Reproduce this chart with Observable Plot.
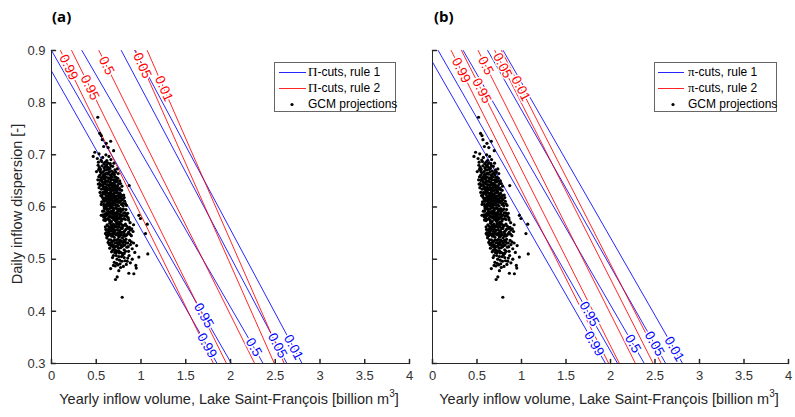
<!DOCTYPE html>
<html>
<head>
<meta charset="utf-8">
<script src="https://cdn.jsdelivr.net/npm/d3@7"></script>
<script src="https://cdn.jsdelivr.net/npm/@observablehq/plot@0.6"></script>
<style>
  body { margin: 0; background: #fff; }
  #wrap { position: relative; width: 795px; height: 417px; overflow: hidden; background: #fff;
          font-family: "Liberation Sans", Arial, sans-serif; color: #262626; }
  .panel { position: absolute; top: 0; }
  .letter { position: absolute; top: 6px; font-family: "Open Sans", sans-serif; font-weight: 700; font-size: 15px; line-height: 20px; color: #000; }
  .xtitle { position: absolute; top: 390px; font-size: 14.5px; line-height: 18px; white-space: nowrap; transform: translateX(-50%); color: #262626; }
  .xtitle sup { font-size: 10px; line-height: 0; vertical-align: 7px; }
  .ytitle { position: absolute; font-size: 14.5px; line-height: 18px; white-space: nowrap; transform: translate(-50%, -50%) rotate(-90deg); color: #262626; }
  .legend { position: absolute; top: 62px; height: 48px; border: 1px solid #666; background: #fff; font-size: 12px; color: #000; }
  .legend .row { position: absolute; left: 0; right: 0; height: 16px; }
  .legend svg { position: absolute; left: 0; top: 0; }
  .legend .lab { position: absolute; top: 0; line-height: 16px; white-space: nowrap; }
  .legend .sym { font-family: "Liberation Serif", "DejaVu Serif", serif; font-size: 13px; }
</style>
</head>
<body>
<div id="wrap"></div>
<script>
// ---------- data ----------
const quantileLabels = ["0.99", "0.95", "0.5", "0.05", "0.01"];
const xTicks = [0, 0.5, 1, 1.5, 2, 2.5, 3, 3.5, 4];
const xTickLabels = ["0", "0.5", "1", "1.5", "2", "2.5", "3", "3.5", "4"];
const yTicks = [0.3, 0.4, 0.5, 0.6, 0.7, 0.8, 0.9];
const yTickLabels = ["0.3", "0.4", "0.5", "0.6", "0.7", "0.8", "0.9"];
const yTop = 0.9, yBottom = 0.3;

// Panel (a): x where each cut crosses y = 0.9 (top) and y = 0.3 (bottom)
const aRule1Top    = [-0.13, 0.00, 0.34, 0.78, 0.93];
const aRule1Bottom = [1.85, 2.01, 2.365, 2.63, 2.80];
const aRule2Top    = [0.10, 0.225, 0.53, 0.94, 1.07];
const aRule2Bottom = [1.81, 1.955, 2.27, 2.49, 2.60];
const aRule1LabelY = [0.3345, 0.392, 0.331, 0.3345, 0.331];
const aRule2LabelY = [0.868, 0.829, 0.871, 0.871, 0.827];

// Panel (b)
const bRule1Top    = [-0.075, 0.064, 0.345, 0.62, 0.794];
const bRule1Bottom = [1.944, 2.08, 2.38, 2.62, 2.81];
const bRule2Top    = [0.21, 0.326, 0.513, 0.70, 0.775];
const bRule2Bottom = [1.98, 2.10, 2.28, 2.48, 2.57];
const bRule1LabelY = [0.338, 0.395, 0.338, 0.338, 0.328];
const bRule2LabelY = [0.862, 0.823, 0.871, 0.871, 0.827];

// GCM projections: [yearly inflow volume, daily inflow dispersion]
const gcmProjections = [
[0.517,0.772],[0.540,0.741],[0.556,0.737],[0.567,0.729],[0.612,0.722],[0.661,0.726],[0.694,0.708],[0.633,0.714],[0.583,0.716],
[0.484,0.705],[0.466,0.697],[0.512,0.693],[0.553,0.690],[0.586,0.683],[0.608,0.700],[0.697,0.684],[0.531,0.702],[0.572,0.695],[0.642,0.697],[0.524,0.686],[0.618,0.689],[0.664,0.691],
[0.734,0.673],[0.521,0.680],[0.548,0.672],[0.579,0.668],[0.603,0.678],[0.623,0.665],[0.652,0.674],[0.671,0.669],[0.703,0.662],[0.541,0.661],[0.566,0.679],[0.633,0.684],[0.594,0.660],[0.658,0.661],[0.718,0.667],[0.503,0.668],[0.612,0.671],[0.684,0.678],[0.557,0.665],[0.639,0.672],[0.691,0.666],[0.588,0.675],[0.527,0.672],[0.573,0.658],[0.626,0.663],[0.745,0.664],[0.662,0.679],[0.604,0.664],
[0.536,0.676],[0.561,0.687],[0.597,0.671],[0.617,0.681],[0.647,0.667],[0.676,0.663],[0.708,0.671],[0.582,0.662],[0.629,0.676],[0.657,0.683],[0.544,0.668],[0.602,0.686],
[0.518,0.652],[0.537,0.645],[0.552,0.656],[0.568,0.648],[0.581,0.639],[0.593,0.653],[0.602,0.644],[0.614,0.657],[0.621,0.636],[0.632,0.649],[0.644,0.641],[0.653,0.655],[0.661,0.632],[0.673,0.646],[0.682,0.638],[0.694,0.652],[0.703,0.643],[0.712,0.634],[0.724,0.648],[0.731,0.637],[0.752,0.645],[0.768,0.633],[0.868,0.641],[0.558,0.634],[0.598,0.631],[0.641,0.654],[0.679,0.658],[0.741,0.655],[0.532,0.637],[0.617,0.650],[0.662,0.643],[0.698,0.632],[0.787,0.640],[0.578,0.659],[0.628,0.633],[0.547,0.641],[0.588,0.647],[0.609,0.638],[0.637,0.642],[0.668,0.652],[0.689,0.645],[0.715,0.652],[0.739,0.641],[0.758,0.636],[0.571,0.643],[0.651,0.637],[0.709,0.657],[0.762,0.650],[0.523,0.644],[0.596,0.656],[0.646,0.633],[0.674,0.635],[0.727,0.631],
[0.528,0.658],[0.543,0.651],[0.561,0.652],[0.576,0.636],[0.586,0.655],[0.607,0.649],[0.623,0.643],[0.636,0.656],[0.657,0.646],[0.666,0.657],[0.678,0.641],[0.697,0.638],[0.706,0.649],[0.719,0.640],[0.734,0.650],[0.748,0.634],[0.771,0.645],[0.783,0.632],[0.591,0.634],[0.614,0.632],[0.653,0.648],[0.686,0.632],[0.722,0.657],[0.563,0.642],
[0.551,0.622],[0.562,0.610],[0.573,0.628],[0.584,0.605],[0.592,0.617],[0.603,0.624],[0.611,0.603],[0.622,0.614],[0.633,0.626],[0.641,0.607],[0.652,0.619],[0.663,0.629],[0.671,0.601],[0.682,0.612],[0.693,0.623],[0.701,0.608],[0.712,0.618],[0.721,0.627],[0.733,0.604],[0.741,0.615],[0.753,0.624],[0.762,0.609],[0.771,0.620],[0.782,0.605],[0.793,0.614],[0.801,0.602],[0.818,0.611],[0.838,0.603],[0.614,0.620],[0.644,0.622],[0.674,0.616],[0.702,0.627],[0.732,0.612],[0.664,0.606],[0.688,0.604],[0.717,0.609],[0.748,0.602],[0.628,0.610],[0.578,0.616],[0.542,0.628],[0.597,0.611],[0.637,0.617],[0.657,0.612],[0.678,0.625],[0.708,0.613],[0.727,0.621],[0.758,0.617],[0.776,0.612],[0.566,0.619],[0.618,0.628],[0.648,0.603],[0.696,0.617],[0.737,0.628],[0.788,0.622],[0.812,0.618],
[0.557,0.605],[0.569,0.624],[0.582,0.611],[0.593,0.627],[0.606,0.616],[0.617,0.606],[0.626,0.621],[0.639,0.613],[0.651,0.626],[0.661,0.615],[0.669,0.622],[0.684,0.618],[0.692,0.609],[0.706,0.621],[0.716,0.603],[0.726,0.615],[0.744,0.609],[0.756,0.611],[0.766,0.626],[0.779,0.617],[0.796,0.607],[0.806,0.623],[0.826,0.606],[0.587,0.601],[0.634,0.603],[0.679,0.606],[0.739,0.621],[0.657,0.607],
[0.571,0.592],[0.582,0.581],[0.591,0.597],[0.602,0.574],[0.613,0.588],[0.621,0.596],[0.632,0.578],[0.641,0.590],[0.652,0.583],[0.663,0.598],[0.671,0.572],[0.681,0.586],[0.692,0.594],[0.702,0.579],[0.711,0.589],[0.722,0.598],[0.731,0.575],[0.742,0.587],[0.751,0.593],[0.762,0.580],[0.772,0.591],[0.781,0.573],[0.792,0.585],[0.803,0.596],[0.811,0.578],[0.822,0.589],[0.842,0.582],[0.861,0.575],[0.878,0.570],[0.556,0.584],[0.663,0.588],[0.702,0.597],[0.733,0.582],[0.758,0.571],[0.648,0.575],[0.683,0.599],[0.713,0.574],[0.744,0.596],[0.622,0.585],[0.976,0.584],[0.994,0.578],[0.598,0.586],[0.627,0.593],[0.657,0.591],[0.688,0.581],[0.717,0.583],[0.737,0.591],[0.767,0.586],[0.787,0.594],[0.816,0.583],[0.832,0.595],[0.852,0.588],[0.607,0.597],[0.676,0.579],[0.727,0.588],[0.776,0.578],[0.584,0.575],[0.643,0.581],[0.698,0.587],[0.748,0.577],
[0.576,0.585],[0.588,0.592],[0.597,0.579],[0.608,0.583],[0.617,0.576],[0.636,0.587],[0.647,0.597],[0.668,0.581],[0.678,0.592],[0.694,0.576],[0.707,0.585],[0.719,0.579],[0.732,0.596],[0.741,0.578],[0.756,0.586],[0.769,0.597],[0.783,0.583],[0.797,0.577],[0.807,0.589],[0.826,0.576],[0.837,0.586],[0.858,0.579],[0.653,0.572],[0.722,0.572],[0.613,0.599],[0.687,0.591],
[0.603,0.549],[0.602,0.562],[0.612,0.551],[0.622,0.566],[0.631,0.545],[0.642,0.558],[0.652,0.569],[0.661,0.548],[0.672,0.560],[0.681,0.553],[0.692,0.567],[0.701,0.542],[0.712,0.556],[0.721,0.564],[0.732,0.549],[0.741,0.561],[0.752,0.543],[0.762,0.555],[0.771,0.568],[0.782,0.547],[0.791,0.559],[0.802,0.552],[0.811,0.565],[0.822,0.544],[0.831,0.557],[0.852,0.549],[0.871,0.561],[0.892,0.545],[0.911,0.553],[0.673,0.544],[0.723,0.547],[0.753,0.566],[0.793,0.541],[0.688,0.557],[0.643,0.547],[1.070,0.567],[1.050,0.549],[0.627,0.556],[0.657,0.561],[0.686,0.547],[0.707,0.563],[0.737,0.556],[0.767,0.548],[0.787,0.566],[0.817,0.554],[0.842,0.563],[0.862,0.552],[0.618,0.541],[0.663,0.556],[0.697,0.551],[0.727,0.568],[0.747,0.551],[0.777,0.559],[0.807,0.545],[0.882,0.556],[0.917,0.566],
[0.607,0.557],[0.616,0.546],[0.636,0.563],[0.648,0.553],[0.667,0.566],[0.678,0.548],[0.696,0.561],[0.716,0.548],[0.731,0.562],[0.743,0.546],[0.758,0.562],[0.773,0.552],[0.797,0.563],[0.812,0.549],[0.826,0.567],[0.837,0.546],[0.857,0.559],[0.876,0.548],[0.897,0.558],[0.632,0.551],[0.706,0.553],[0.762,0.544],[0.682,0.564],[0.742,0.569],
[0.632,0.532],[0.651,0.521],[0.662,0.537],[0.671,0.514],[0.682,0.528],[0.691,0.535],[0.702,0.519],[0.712,0.531],[0.721,0.512],[0.732,0.525],[0.741,0.538],[0.752,0.516],[0.761,0.529],[0.772,0.522],[0.781,0.534],[0.792,0.511],[0.801,0.526],[0.812,0.518],[0.822,0.533],[0.842,0.523],[0.861,0.515],[0.882,0.528],[0.902,0.520],[0.931,0.513],[0.713,0.524],[0.742,0.527],[0.772,0.513],[0.683,0.517],[0.832,0.538],[0.951,0.526],[1.076,0.510],[0.646,0.528],[0.697,0.526],[0.727,0.536],[0.757,0.533],[0.787,0.524],[0.808,0.536],[0.852,0.531],[0.872,0.536],[0.917,0.531],[0.737,0.515],[0.827,0.515],[0.667,0.526],
[0.641,0.537],[0.657,0.531],[0.676,0.533],[0.688,0.523],[0.707,0.537],[0.717,0.517],[0.736,0.531],[0.748,0.521],[0.766,0.537],[0.776,0.527],[0.797,0.531],[0.817,0.527],[0.837,0.531],[0.857,0.524],[0.892,0.533],[0.706,0.513],[0.757,0.512],[0.812,0.511],
[0.682,0.503],[0.701,0.494],[0.722,0.507],[0.742,0.489],[0.761,0.498],[0.766,0.491],[0.782,0.505],[0.803,0.486],[0.821,0.497],[0.852,0.502],[0.881,0.493],[0.942,0.488],[0.976,0.504],[0.661,0.482],[0.732,0.500],[0.772,0.484],[0.902,0.500],[0.712,0.487],[0.797,0.508],[0.836,0.490],[0.867,0.507],
[0.692,0.507],[0.727,0.492],[0.752,0.505],[0.787,0.496],[0.812,0.503],[0.692,0.488],[0.846,0.496],
[0.734,0.466],[0.715,0.461],[0.790,0.427],[0.864,0.473],[0.920,0.472],[0.752,0.478],[0.947,0.483]
];

// ---------- styling ----------
const rule1Color = "#0000ff";
const rule2Color = "#ff0000";
const axisColor = "#262626";
const H = 417, MT = 50, MB = 54;
const xDomain = [0, 4];

const tickShape = { draw(context, l) { context.moveTo(0, 0); context.lineTo(0, -l); } };
const xLabelOf = new Map(xTicks.map((t, i) => [t, xTickLabels[i]]));
const yLabelOf = new Map(yTicks.map((t, i) => [t, yTickLabels[i]]));

function makePanel(cfg) {
  const {width, marginLeft, marginRight, showYLabels, rules} = cfg;
  const plotW = width - marginLeft - marginRight;
  const plotH = H - MT - MB;
  const lineRows = [];
  const labelRows = [];
  rules.forEach(({name, top, bottom, labelY, color}) => {
    quantileLabels.forEach((q, i) => {
      lineRows.push({rule: name, id: name + q, x: top[i], y: yTop});
      lineRows.push({rule: name, id: name + q, x: bottom[i], y: yBottom});
      const t = (yTop - labelY[i]) / (yTop - yBottom);
      const dxPx = (bottom[i] - top[i]) * plotW / (xDomain[1] - xDomain[0]);
      labelRows.push({
        text: q, color,
        x: top[i] + t * (bottom[i] - top[i]),
        y: labelY[i],
        angle: Math.atan2(plotH, dxPx) * 180 / Math.PI
      });
    });
  });
  const marks = [];
  rules.forEach(({name, color}) => {
    marks.push(Plot.line(lineRows.filter(d => d.rule === name), {
      x: "x", y: "y", z: "id", stroke: color, strokeWidth: 1, strokeOpacity: 0.85, clip: true
    }));
  });
  marks.push(Plot.dot(gcmProjections, {x: d => d[0], y: d => d[1], r: 1.6, fill: "#000", stroke: null}));
  marks.push(Plot.text(labelRows, {
    x: "x", y: "y", text: "text", rotate: "angle", fill: d => d.color,
    stroke: "white", strokeWidth: 3, fontSize: 13.5, textAnchor: "middle", lineAnchor: "middle"
  }));
  marks.push(Plot.ruleX([xDomain[0]], {stroke: axisColor, strokeWidth: 1}));
  marks.push(Plot.ruleY([yBottom], {stroke: axisColor, strokeWidth: 1}));
  marks.push(Plot.vector(xTicks, {x: d => d, frameAnchor: "bottom", anchor: "start", length: 4, rotate: 0, shape: tickShape, stroke: axisColor}));
  marks.push(Plot.vector(yTicks, {y: d => d, frameAnchor: "left", anchor: "start", length: 4, rotate: 90, shape: tickShape, stroke: axisColor}));
  marks.push(Plot.axisX(xTicks, {tickSize: 0, tickPadding: 7, tickFormat: d => xLabelOf.get(d), fontSize: 13, label: null}));
  if (showYLabels) {
    marks.push(Plot.axisY(yTicks, {tickSize: 0, tickPadding: 6, tickFormat: d => yLabelOf.get(d), fontSize: 13, label: null}));
  }
  return Plot.plot({
    width, height: H, marginTop: MT, marginBottom: MB, marginLeft, marginRight,
    x: {domain: xDomain},
    y: {domain: [yBottom, yTop], axis: showYLabels ? undefined : null},
    style: {fontFamily: "Liberation Sans, Arial, sans-serif", color: "#333", background: "transparent", overflow: "visible"},
    marks
  });
}

const wrap = document.getElementById("wrap");

const panelA = makePanel({
  width: 412, marginLeft: 51, marginRight: 3, showYLabels: true,
  rules: [
    {name: "rule1", top: aRule1Top, bottom: aRule1Bottom, labelY: aRule1LabelY, color: rule1Color},
    {name: "rule2", top: aRule2Top, bottom: aRule2Bottom, labelY: aRule2LabelY, color: rule2Color}
  ]
});
panelA.classList.add("panel");
panelA.style.left = "0px";
wrap.appendChild(panelA);

const panelB = makePanel({
  width: 385, marginLeft: 22, marginRight: 7, showYLabels: false,
  rules: [
    {name: "rule1", top: bRule1Top, bottom: bRule1Bottom, labelY: bRule1LabelY, color: rule1Color},
    {name: "rule2", top: bRule2Top, bottom: bRule2Bottom, labelY: bRule2LabelY, color: rule2Color}
  ]
});
panelB.classList.add("panel");
panelB.style.left = "410px";
wrap.appendChild(panelB);

// ---------- titles, axis titles and legends ----------
function addHTML(html) { wrap.insertAdjacentHTML("beforeend", html); }
addHTML(`<div class="letter" style="left:52px">(a)</div>`);
addHTML(`<div class="letter" style="left:434px">(b)</div>`);
addHTML(`<div class="xtitle" style="left:229px">Yearly inflow volume, Lake Saint-François [billion m<sup>3</sup>]</div>`);
addHTML(`<div class="xtitle" style="left:609px">Yearly inflow volume, Lake Saint-François [billion m<sup>3</sup>]</div>`);
addHTML(`<div class="ytitle" style="left:17px;top:204px">Daily inflow dispersion [-]</div>`);

function legend(left, width, sym, sw0, sw1, dotX, textX) {
  const rows = [
    {kind: "line", color: rule1Color, text: `<span class="sym">${sym}</span>-cuts, rule 1`},
    {kind: "line", color: rule2Color, text: `<span class="sym">${sym}</span>-cuts, rule 2`},
    {kind: "dot", text: "GCM projections"}
  ];
  const inner = rows.map((r, i) => {
    const marker = r.kind === "line"
      ? `<svg width="${sw1 + 2}" height="16"><line x1="${sw0}" x2="${sw1}" y1="8.5" y2="8.5" stroke="${r.color}" stroke-opacity="0.85" stroke-width="1"/></svg>`
      : `<svg width="${dotX + 4}" height="16"><circle cx="${dotX}" cy="8.5" r="1.6" fill="#000"/></svg>`;
    return `<div class="row" style="top:${1 + i * 16}px">${marker}<div class="lab" style="left:${textX}px">${r.text}</div></div>`;
  }).join("");
  addHTML(`<div class="legend" style="left:${left}px;width:${width}px">${inner}</div>`);
}
legend(274, 120, "Π", 4, 31, 17, 33);
legend(654, 121, "π", 3, 29, 18, 33);
</script>
</body>
</html>
